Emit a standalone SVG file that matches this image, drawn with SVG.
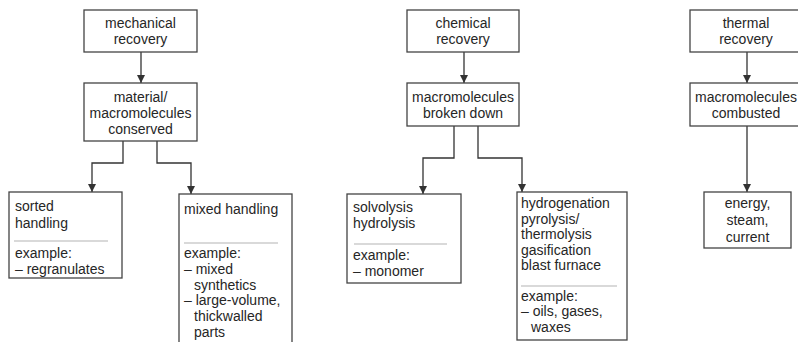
<svg xmlns="http://www.w3.org/2000/svg" width="798" height="342" viewBox="0 0 798 342">
  <defs>
    <marker id="arrow" markerWidth="8" markerHeight="10" refX="8" refY="4" orient="auto" markerUnits="userSpaceOnUse" viewBox="0 0 8 8">
      <path d="M0,0 L8,4 L0,8 Z" fill="#333"/>
    </marker>
  </defs>
  <style>
    .box { fill: #fff; stroke: #444; stroke-width: 1.3; }
    .sep { stroke: #b4b4b4; stroke-width: 1.2; }
    .wire { fill: none; stroke: #333; stroke-width: 1.3; }
    text { font-family: "Liberation Sans", Arial, sans-serif; font-size: 14px; fill: #262626; }
    .c { text-anchor: middle; }
  </style>
  <rect width="798" height="342" fill="#fff"/>

  <!-- connectors -->
  <g id="connectors">
    <path class="wire" d="M141,52 V83" marker-end="url(#arrow)"/>
    <path class="wire" d="M123,141 V163 H92 V192" marker-end="url(#arrow)"/>
    <path class="wire" d="M157,141 V163 H191 V194" marker-end="url(#arrow)"/>
    <path class="wire" d="M464,52 V83" marker-end="url(#arrow)"/>
    <path class="wire" d="M454,126 V158 H423 V194" marker-end="url(#arrow)"/>
    <path class="wire" d="M478,126 V158 H522 V192" marker-end="url(#arrow)"/>
    <path class="wire" d="M747,52 V83" marker-end="url(#arrow)"/>
    <path class="wire" d="M747,126 V192" marker-end="url(#arrow)"/>
  </g>

  <!-- mechanical column -->
  <g id="mechanical-recovery">
    <rect class="box" x="84" y="10" width="113" height="42"/>
    <text class="c" x="140.5" y="28">mechanical</text>
    <text class="c" x="140.5" y="44">recovery</text>
  </g>
  <g id="material-conserved">
    <rect class="box" x="84" y="83" width="113" height="58"/>
    <text class="c" x="140.5" y="102">material/</text>
    <text class="c" x="140.5" y="118">macromolecules</text>
    <text class="c" x="140.5" y="134">conserved</text>
  </g>
  <g id="sorted-handling">
    <rect class="box" x="9" y="192" width="113" height="86"/>
    <text x="15" y="211">sorted</text>
    <text x="15" y="228">handling</text>
    <line class="sep" x1="14" y1="241" x2="108" y2="241"/>
    <text x="15" y="258">example:</text>
    <text x="15" y="274">– regranulates</text>
  </g>
  <g id="mixed-handling">
    <rect class="box" x="179" y="194" width="113" height="160"/>
    <text x="184" y="214">mixed handling</text>
    <line class="sep" x1="184" y1="243" x2="278" y2="243"/>
    <text x="184" y="258">example:</text>
    <text x="184" y="274">– mixed</text>
    <text x="194" y="290">synthetics</text>
    <text x="184" y="305">– large-volume,</text>
    <text x="194" y="321">thickwalled</text>
    <text x="194" y="337">parts</text>
  </g>

  <!-- chemical column -->
  <g id="chemical-recovery">
    <rect class="box" x="407" y="10" width="112" height="42"/>
    <text class="c" x="463" y="28">chemical</text>
    <text class="c" x="463" y="44">recovery</text>
  </g>
  <g id="broken-down">
    <rect class="box" x="407" y="83" width="112" height="43"/>
    <text class="c" x="463" y="102">macromolecules</text>
    <text class="c" x="463" y="118">broken down</text>
  </g>
  <g id="solvolysis">
    <rect class="box" x="347" y="194" width="114" height="89"/>
    <text x="353" y="212">solvolysis</text>
    <text x="353" y="228">hydrolysis</text>
    <line class="sep" x1="354" y1="244" x2="447" y2="244"/>
    <text x="353" y="260">example:</text>
    <text x="353" y="276">– monomer</text>
  </g>
  <g id="hydrogenation">
    <rect class="box" x="517" y="192" width="110" height="148"/>
    <text x="521" y="208">hydrogenation</text>
    <text x="521" y="224">pyrolysis/</text>
    <text x="521" y="239">thermolysis</text>
    <text x="521" y="255">gasification</text>
    <text x="521" y="270">blast furnace</text>
    <line class="sep" x1="521" y1="286" x2="617" y2="286"/>
    <text x="521" y="301">example:</text>
    <text x="521" y="316">– oils, gases,</text>
    <text x="531" y="332">waxes</text>
  </g>

  <!-- thermal column -->
  <g id="thermal-recovery">
    <rect class="box" x="690" y="10" width="112" height="42"/>
    <text class="c" x="746" y="28">thermal</text>
    <text class="c" x="746" y="44">recovery</text>
  </g>
  <g id="combusted">
    <rect class="box" x="690" y="83" width="112" height="43"/>
    <text class="c" x="746" y="102">macromolecules</text>
    <text class="c" x="746" y="118">combusted</text>
  </g>
  <g id="energy">
    <rect class="box" x="704" y="192" width="87" height="56"/>
    <text class="c" x="747.5" y="208">energy,</text>
    <text class="c" x="747.5" y="225">steam,</text>
    <text class="c" x="747.5" y="242">current</text>
  </g>
</svg>
